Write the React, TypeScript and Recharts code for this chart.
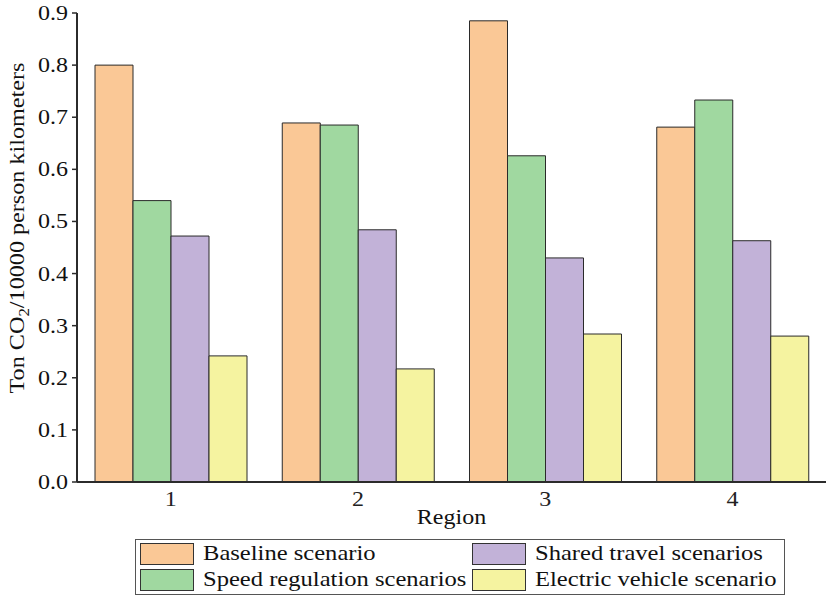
import React from "react";
import {
  BarChart,
  Bar,
  XAxis,
  YAxis,
} from "recharts";

const regions = ["1", "2", "3", "4"];
const baseline = [0.8, 0.689, 0.885, 0.681];
const speedRegulation = [0.54, 0.685, 0.626, 0.733];
const sharedTravel = [0.472, 0.484, 0.43, 0.463];
const electricVehicle = [0.242, 0.217, 0.284, 0.28];
const yTicks = [0, 0.1, 0.2, 0.3, 0.4, 0.5, 0.6, 0.7, 0.8, 0.9];

const SERIES = [
  { key: "baseline", name: "Baseline scenario", color: "#FAC896" },
  { key: "speed", name: "Speed regulation scenarios", color: "#A0D8A0" },
  { key: "shared", name: "Shared travel scenarios", color: "#C2B2D8" },
  { key: "ev", name: "Electric vehicle scenario", color: "#F5F3A0" },
];

const FONT = "Times New Roman, Liberation Serif, DejaVu Serif, serif";
const AXIS = "#2b2b2b";
const STRETCH = 1.2; // the source image is a bit wide

const data = regions.map((r, i) => ({
  region: r,
  baseline: baseline[i],
  speed: speedRegulation[i],
  shared: sharedTravel[i],
  ev: electricVehicle[i],
}));

function YTick({ x, y, payload }: any) {
  return (
    <text
      transform={`translate(${x}, ${y}) scale(${STRETCH}, 1)`}
      textAnchor="end"
      dy={7}
      fontFamily={FONT}
      fontSize={20}
      fill="#111"
    >
      {Number(payload.value).toFixed(1)}
    </text>
  );
}

function XTick({ x, y, payload }: any) {
  return (
    <text
      transform={`translate(${x}, ${y}) scale(${STRETCH}, 1)`}
      textAnchor="middle"
      dy={15}
      fontFamily={FONT}
      fontSize={20}
      fill="#222"
    >
      {payload.value}
    </text>
  );
}

function XLabel({ viewBox }: any) {
  const cx = viewBox.x + viewBox.width / 2;
  return (
    <text
      transform={`translate(${cx}, 524) scale(${STRETCH}, 1)`}
      textAnchor="middle"
      fontFamily={FONT}
      fontSize={20}
      fill="#111"
    >
      Region
    </text>
  );
}

function YLabel() {
  return (
    <text
      x={0}
      y={0}
      transform="translate(24, 228) rotate(-90)"
      textAnchor="middle"
      fontFamily={FONT}
      fontSize={20}
      fill="#111"
      textLength={331}
      lengthAdjust="spacingAndGlyphs"
    >
      Ton CO
      <tspan fontSize={14} dy={5}>2</tspan>
      <tspan dy={-5}>/10000 person kilometers</tspan>
    </text>
  );
}

function LegendBox() {
  const cell = (s: (typeof SERIES)[number], swatchLeft: number, textLeft: number, top: number) => (
    <div key={s.key}>
      <div
        style={{
          position: "absolute",
          left: swatchLeft,
          top,
          width: 54,
          height: 22,
          background: s.color,
          border: "1px solid #333",
          boxSizing: "border-box",
        }}
      />
      <div
        style={{
          position: "absolute",
          left: textLeft,
          top: top - 3,
          fontFamily: FONT,
          fontSize: 21,
          lineHeight: "26px",
          color: "#111",
          whiteSpace: "nowrap",
          transform: "scaleX(1.17)",
          transformOrigin: "left center",
        }}
      >
        {s.name}
      </div>
    </div>
  );
  return (
    <div
      style={{
        position: "absolute",
        left: 135,
        top: 539,
        width: 650,
        height: 56,
        border: "1px solid #555",
        boxSizing: "border-box",
        background: "#fff",
      }}
    >
      {cell(SERIES[0], 4, 67, 3)}
      {cell(SERIES[1], 4, 67, 29)}
      {cell(SERIES[2], 336, 399, 3)}
      {cell(SERIES[3], 336, 399, 29)}
    </div>
  );
}

export default function App() {
  return (
    <div style={{ position: "absolute", left: 0, top: 0, width: 826, height: 596, background: "#fff" }}>
      <BarChart
        width={826}
        height={596}
        data={data}
        margin={{ top: 13, right: 0, bottom: 0, left: 0 }}
        barCategoryGap={18}
        barGap={0}
      >
        <XAxis
          dataKey="region"
          height={114}
          tickLine={false}
          tickSize={0}
          tickMargin={9}
          axisLine={{ stroke: AXIS, strokeWidth: 2 }}
          tick={<XTick />}
          label={<XLabel />}
        />
        <XAxis
          xAxisId="top"
          dataKey="region"
          orientation="top"
          height={0}
          tick={false}
          tickLine={false}
          axisLine={{ stroke: AXIS, strokeWidth: 2 }}
        />
        <YAxis
          width={77}
          domain={[0, 0.9]}
          ticks={yTicks}
          interval={0}
          tickSize={5}
          tickMargin={4}
          tickLine={{ stroke: AXIS, strokeWidth: 1.5 }}
          axisLine={{ stroke: AXIS, strokeWidth: 2 }}
          tick={<YTick />}
          label={<YLabel />}
        />
        {SERIES.map((s) => (
          <Bar
            key={s.key}
            dataKey={s.key}
            name={s.name}
            fill={s.color}
            stroke="#2a2a2a"
            strokeWidth={1}
            isAnimationActive={false}
          />
        ))}
      </BarChart>
      <LegendBox />
    </div>
  );
}
